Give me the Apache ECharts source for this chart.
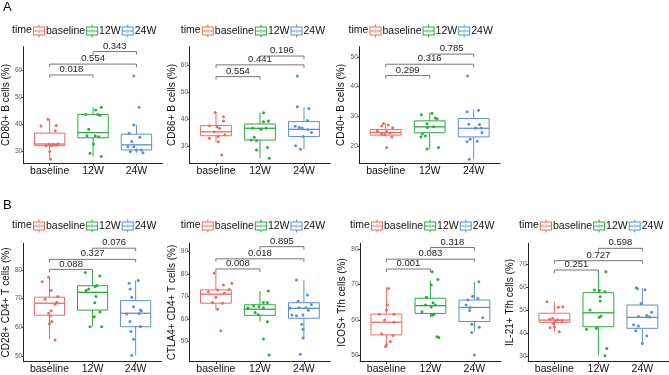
<!DOCTYPE html>
<html>
<head>
<meta charset="utf-8">
<script src="https://cdn.jsdelivr.net/npm/echarts@6/dist/echarts.min.js"></script>
<style>
  html, body { margin: 0; padding: 0; background: #fff; }
  #chart { width: 669px; height: 375px; }
</style>
</head>
<body>
<div id="chart"></div>
<script>
const groups = ['baseline', '12W', '24W'];
const groupColors = ['#EE6A63', '#2BAA3E', '#5B8ED8'];

// box stats per group: [whisker low, Q1, median, Q3, whisker high]
// points: [jitter offset, value]

// CD80+ B cells
const cd80Box = [[27.2, 32.2, 32.8, 36.8, 42.0], [28.2, 35.1, 37.0, 43.7, 46.3], [29.6, 30.6, 32.5, 36.4, 39.8]];
const cd80Base = [[-0.04, 41.9], [-0.2, 39.4], [0.15, 39.6], [0.13, 37.7], [-0.02, 32.7], [0.08, 32.7], [0.19, 32.9], [-0.08, 32.2], [0.04, 32.2], [0.15, 32.3], [0, 30.0], [0.02, 27.2]];
const cd80W12 = [[0.19, 46.3], [0.06, 45.3], [-0.17, 43.7], [0.11, 43.7], [0.16, 43.4], [-0.1, 38.2], [-0.14, 35.8], [0.05, 35.8], [0.13, 35.5], [0.01, 32.8], [-0.07, 29.4], [0.19, 28.2]];
const cd80W24 = [[-0.06, 57.8], [0.06, 46.3], [-0.06, 39.8], [-0.17, 36.8], [0.08, 35.3], [-0.11, 33.7], [-0.2, 31.8], [-0.06, 31.8], [0, 30.6], [0.11, 30.6], [-0.14, 30.0], [0.15, 29.6]];
const cd80Sig = [[1, 2, 58.2], [1, 3, 62.2], [2, 3, 66.8]];
const cd80P = ['0.018', '0.554', '0.343'];
const cd80Ticks = [30, 40, 50, 60];

// CD86+ B cells
const cd86Box = [[31.5, 33.8, 35.3, 37.6, 42.5], [25.4, 32.2, 36.6, 38.2, 42.4], [28.8, 33.5, 36.2, 39.1, 44.4]];
const cd86Base = [[-0.02, 42.5], [0.17, 40.9], [0.17, 39.3], [-0.15, 37.5], [0.02, 37.2], [0.08, 36.6], [-0.04, 35.3], [0.2, 34.2], [0.05, 33.5], [-0.15, 32.9], [0.05, 31.6], [0.13, 26.6]];
const cd86W12 = [[0.08, 42.4], [0.19, 39.3], [0.08, 39.0], [-0.17, 36.6], [0.02, 36.2], [0.14, 36.6], [-0.13, 33.2], [-0.2, 32.2], [-0.08, 32.0], [0.17, 29.4], [-0.08, 28.5], [0.21, 25.4]];
const cd86W24 = [[-0.15, 56.1], [-0.15, 44.6], [0.11, 44.0], [0.08, 39.5], [-0.11, 36.9], [-0.04, 36.7], [0.17, 35.0], [-0.02, 33.5], [-0.19, 30.1], [-0.08, 28.8], [0.09, 36.0], [-0.2, 37.4]];
const cd86Sig = [[1, 2, 55.9], [1, 3, 60.3], [2, 3, 63.6]];
const cd86P = ['0.554', '0.441', '0.196'];
const cd86Ticks = [30, 40, 50, 60];

// CD40+ B cells
const cd40Box = [[23.0, 23.6, 24.5, 25.5, 27.5], [18.9, 24.4, 26.4, 28.4, 31.0], [15.5, 23.0, 25.9, 29.2, 32.3]];
const cd40Base = [[-0.05, 27.5], [0.06, 27.0], [-0.09, 26.7], [0.16, 26.1], [-0.19, 25.0], [0.02, 24.8], [0.1, 24.3], [-0.09, 24.0], [-0.02, 23.8], [0.14, 23.0], [0.02, 19.4]];
const cd40W12 = [[-0.19, 30.5], [0.05, 31.0], [0.13, 29.4], [0.17, 29.0], [0.09, 26.4], [-0.06, 27.4], [-0.05, 26.2], [-0.17, 24.0], [-0.1, 23.3], [-0.2, 23.0], [-0.06, 18.9], [0.2, 19.4]];
const cd40W24 = [[-0.14, 43.5], [0.11, 32.0], [-0.15, 31.5], [-0.11, 27.3], [0.13, 27.2], [0.17, 26.0], [0.04, 26.0], [0.19, 24.5], [-0.08, 22.2], [0.08, 21.5], [-0.15, 21.4], [-0.1, 15.5]];
const cd40Sig = [[1, 2, 43.7], [1, 3, 47.5], [2, 3, 50.9]];
const cd40P = ['0.299', '0.316', '0.785'];
const cd40Ticks = [20, 30, 40, 50];

// CD28+ CD4+ T cells
const cd28Box = [[55.8, 64.2, 68.4, 70.5, 77.5], [60.2, 66.0, 72.2, 74.5, 79.4], [50.2, 60.2, 64.9, 69.3, 76.3]];
const cd28Base = [[-0.02, 77.5], [-0.17, 75.9], [0.04, 72.8], [0.19, 70.7], [-0.1, 69.8], [0.17, 68.7], [0.13, 68.0], [0.04, 65.8], [-0.02, 64.9], [0.02, 63.9], [0.05, 62.0], [0, 61.2], [0.13, 55.6]];
const cd28W12 = [[-0.17, 79.1], [0.17, 77.9], [-0.09, 73.4], [0.06, 74.2], [0.1, 74.6], [-0.15, 72.8], [0.08, 70.7], [0.05, 68.6], [0.17, 65.3], [0.04, 63.7], [-0.06, 60.2], [0.21, 60.2]];
const cd28W24 = [[0.06, 76.3], [-0.15, 75.4], [-0.13, 73.4], [-0.09, 70.5], [-0.05, 67.2], [0.11, 66.0], [0.13, 65.8], [-0.21, 64.6], [0.08, 64.8], [-0.13, 62.0], [0.11, 60.3], [-0.11, 58.5], [-0.05, 55.8], [-0.09, 50.2]];
const cd28Sig = [[1, 2, 80.2], [1, 3, 83.7], [2, 3, 87.6]];
const cd28P = ['0.088', '0.327', '0.076'];
const cd28Ticks = [50, 60, 70, 80];

// CTLA4+ CD4+ T cells
const ctla4Box = [[64.1, 67.1, 71.1, 73.0, 80.8], [58.9, 61.7, 64.4, 66.4, 72.5], [51.2, 60.4, 64.8, 67.3, 77.4]];
const ctla4Base = [[-0.04, 80.5], [0.36, 75.9], [0.17, 75.2], [0.04, 73.0], [0.3, 73.2], [-0.17, 72.2], [0.19, 71.5], [0, 69.7], [-0.08, 67.4], [0.15, 67.1], [0.04, 64.4], [0.11, 54.8]];
const ctla4W12 = [[0.19, 72.5], [0.08, 67.4], [0.17, 67.4], [-0.14, 65.8], [-0.02, 65.5], [0.08, 65.1], [-0.27, 65.1], [-0.04, 62.0], [-0.11, 63.0], [0.17, 58.9], [0.08, 51.2], [0.21, 44.1]];
const ctla4W24 = [[-0.17, 77.4], [0.08, 70.7], [-0.13, 68.0], [0.17, 66.5], [-0.32, 65.0], [0.04, 65.1], [-0.11, 65.1], [0.1, 64.0], [-0.27, 61.8], [-0.17, 61.5], [-0.02, 61.8], [-0.05, 57.7], [-0.02, 55.5], [-0.02, 51.6], [-0.08, 44.4]];
const ctla4Sig = [[1, 2, 82.3], [1, 3, 86.8], [2, 3, 92.2]];
const ctla4P = ['0.008', '0.018', '0.895'];
const ctla4Ticks = [50, 60, 70, 80, 90];

// ICOS+ Tfh cells
const icosBox = [[52.4, 55.7, 59.3, 61.6, 69.4], [60.7, 61.8, 64.0, 66.1, 71.1], [56.6, 59.5, 63.5, 65.6, 70.8]];
const icosBase = [[0.05, 68.9], [0.02, 64.2], [0, 62.8], [-0.16, 61.6], [0.17, 61.6], [-0.04, 59.9], [0.17, 59.3], [-0.11, 56.0], [0.15, 55.5], [0.09, 53.8], [0, 52.9], [-0.02, 52.4]];
const icosW12 = [[0.04, 73.6], [0.17, 71.4], [0.02, 69.9], [-0.09, 66.4], [-0.11, 64.2], [0.06, 64.8], [0.02, 63.6], [0.11, 64.2], [-0.19, 62.3], [0.04, 61.3], [0.08, 61.6], [0.15, 55.2], [0.19, 55.0]];
const icosW24 = [[0.1, 70.8], [-0.04, 66.7], [-0.15, 65.6], [0.08, 66.0], [-0.19, 64.2], [-0.1, 63.5], [-0.11, 62.6], [0.19, 60.6], [-0.06, 58.7], [0.11, 57.9], [-0.06, 56.4], [0, 50.0]];
const icosSig = [[1, 2, 74.4], [1, 3, 77.2], [2, 3, 80.5]];
const icosP = ['0.001', '0.083', '0.318'];
const icosTicks = [50, 60, 70, 80];

// IL-21+ Tfh cells
const il21Box = [[40.5, 44.6, 45.6, 48.6, 53.6], [30.0, 42.7, 48.8, 57.6, 67.1], [35.7, 42.0, 46.8, 52.2, 59.5]];
const il21Base = [[-0.17, 53.6], [0.19, 51.4], [0.09, 51.2], [-0.04, 46.4], [0.07, 45.8], [-0.11, 46.0], [0.17, 45.4], [0.02, 45.2], [-0.02, 44.0], [0, 42.7], [-0.1, 42.2], [0.11, 40.5]];
const il21W12 = [[0.17, 66.8], [-0.09, 58.8], [0.02, 58.5], [0.15, 58.0], [0.04, 55.8], [0.04, 54.0], [-0.19, 50.0], [0.06, 47.4], [0.02, 46.8], [-0.05, 42.0], [-0.27, 41.6], [0.19, 33.2], [0.15, 30.0]];
const il21W24 = [[-0.14, 59.8], [-0.11, 59.3], [0.06, 58.9], [-0.03, 52.9], [0.21, 49.0], [0.1, 47.6], [0.16, 47.0], [-0.09, 47.2], [-0.2, 43.6], [-0.09, 43.0], [-0.15, 40.9], [0.1, 38.8], [0, 35.4]];
const il21Sig = [[1, 2, 67.5], [1, 3, 71.6], [2, 3, 77.0]];
const il21P = ['0.251', '0.727', '0.598'];
const il21Ticks = [30, 40, 50, 60, 70];

const font = 'Liberation Sans, Arial, Helvetica, sans-serif';
const keyIcon = 'path://M0 4H24V22H0Z M2 6V20H22V6Z M2 12H22V14H2Z M11 0H13V4H11Z M11 22H13V26H11Z M9 13A3 3 0 1 0 15 13A3 3 0 1 0 9 13Z';

const panels = [
  { name: 'CD80+ B cells (%)', box: cd80Box, pts: [cd80Base, cd80W12, cd80W24], sig: cd80Sig, p: cd80P, ticks: cd80Ticks,
    yMin: 25.7, yMax: 68.6, left: 21.7, top: 46.7, height: 116.6, nameGap: 2, legendX: 84.5, legendY: 31 },
  { name: 'CD86+ B cells (%)', box: cd86Box, pts: [cd86Base, cd86W12, cd86W24], sig: cd86Sig, p: cd86P, ticks: cd86Ticks,
    yMin: 23.5, yMax: 67.1, left: 189.6, top: 46.7, height: 116.6, nameGap: 9, legendX: 253.3, legendY: 31 },
  { name: 'CD40+ B cells (%)', box: cd40Box, pts: [cd40Base, cd40W12, cd40W24], sig: cd40Sig, p: cd40P, ticks: cd40Ticks,
    yMin: 14.1, yMax: 53.4, left: 359.3, top: 46.7, height: 116.6, nameGap: 9, legendX: 421, legendY: 31 },
  { name: 'CD28+ CD4+ T cells (%)', box: cd28Box, pts: [cd28Base, cd28W12, cd28W24], sig: cd28Sig, p: cd28P, ticks: cd28Ticks,
    yMin: 48.0, yMax: 89.3, left: 20.7, top: 243.3, height: 118.4, nameGap: 3, legendX: 84.5, legendY: 226 },
  { name: 'CTLA4+ CD4+ T cells (%)', box: ctla4Box, pts: [ctla4Base, ctla4W12, ctla4W24], sig: ctla4Sig, p: ctla4P, ticks: ctla4Ticks,
    yMin: 41.1, yMax: 93.7, left: 189.5, top: 243.3, height: 118.4, nameGap: 12, legendX: 253.3, legendY: 226 },
  { name: 'ICOS+ Tfh cells (%)', box: icosBox, pts: [icosBase, icosW12, icosW24], sig: icosSig, p: icosP, ticks: icosTicks,
    yMin: 48.1, yMax: 81.7, left: 360, top: 243.3, height: 118.4, nameGap: 12, legendX: 422.5, legendY: 226 },
  { name: 'IL-21+ Tfh cells (%)', box: il21Box, pts: [il21Base, il21W12, il21W24], sig: il21Sig, p: il21P, ticks: il21Ticks,
    yMin: 27.4, yMax: 79.2, left: 528, top: 243.3, height: 118.4, nameGap: 8, legendX: 591.5, legendY: 226 }
];

function renderBox(params, api) {
  const x = api.value(0);
  const lo = api.coord([x, api.value(1)]);
  const q1 = api.coord([x, api.value(2)]);
  const md = api.coord([x, api.value(3)]);
  const q3 = api.coord([x, api.value(4)]);
  const hi = api.coord([x, api.value(5)]);
  const hw = api.size([0.7, 0], [x, 0])[0] / 2;
  const color = api.visual('color');
  const st = { stroke: color, lineWidth: 1, fill: null };
  return {
    type: 'group',
    children: [
      { type: 'line', shape: { x1: lo[0], y1: lo[1], x2: q1[0], y2: q1[1] }, style: st },
      { type: 'line', shape: { x1: q3[0], y1: q3[1], x2: hi[0], y2: hi[1] }, style: st },
      { type: 'rect', shape: { x: q3[0] - hw, y: q3[1], width: hw * 2, height: q1[1] - q3[1] }, style: st },
      { type: 'line', shape: { x1: md[0] - hw, y1: md[1], x2: md[0] + hw, y2: md[1] }, style: { stroke: color, lineWidth: 1.3 } }
    ]
  };
}

function makeSig(labels) {
  return function (params, api) {
    const y = api.value(2);
    const a = api.coord([api.value(0), y]);
    const b = api.coord([api.value(1), y]);
    return {
      type: 'group',
      children: [
        { type: 'polyline', shape: { points: [[a[0], a[1] + 3], a, b, [b[0], b[1] + 3]] },
          style: { stroke: '#666', lineWidth: 0.9, fill: null } },
        { type: 'text', x: (a[0] + b[0]) / 2, y: a[1] - 0.5,
          style: { text: labels[params.dataIndex], fill: '#222', fontSize: 9.5, fontFamily: font, align: 'center', verticalAlign: 'bottom' } }
      ]
    };
  };
}

const grid = [], xAxis = [], yAxis = [], series = [], legend = [];
const title = [
  { text: 'A', left: 3, top: 1, padding: 0, textStyle: { fontSize: 13, fontWeight: 'normal', color: '#000', fontFamily: font } },
  { text: 'B', left: 3, top: 199, padding: 0, textStyle: { fontSize: 13, fontWeight: 'normal', color: '#000', fontFamily: font } }
];

panels.forEach((p, i) => {
  grid.push({ left: p.left, top: p.top, width: 140.8, height: p.height });
  xAxis.push({
    type: 'value', gridIndex: i, min: 0.4, max: 3.6,
    splitLine: { show: false },
    axisLine: { show: true, onZero: false, lineStyle: { color: '#222', width: 1 } },
    axisTick: { show: true, length: 2.5, customValues: [1, 2, 3], lineStyle: { color: '#333' } },
    axisLabel: { customValues: [1, 2, 3], formatter: v => groups[Math.round(v) - 1], color: '#111', fontSize: 10.5, margin: 2, fontFamily: font }
  });
  yAxis.push({
    type: 'value', gridIndex: i, min: p.yMin, max: p.yMax,
    name: p.name, nameLocation: 'middle', nameGap: p.nameGap,
    nameTextStyle: { fontSize: 10, color: '#111', fontFamily: font },
    splitLine: { show: false },
    axisLine: { show: true, lineStyle: { color: '#222', width: 1 } },
    axisTick: { show: true, length: 2, customValues: p.ticks, lineStyle: { color: '#444' } },
    axisLabel: { customValues: p.ticks, color: '#555', fontSize: 6.5, margin: 1.5, fontFamily: font }
  });
  groups.forEach((g, gi) => {
    series.push({
      type: 'custom', name: g, xAxisIndex: i, yAxisIndex: i, silent: true, z: 2,
      itemStyle: { color: groupColors[gi] },
      encode: { x: 0, y: [1, 2, 3, 4, 5] },
      data: [[gi + 1].concat(p.box[gi])],
      renderItem: renderBox
    });
  });
  groups.forEach((g, gi) => {
    series.push({
      type: 'scatter', name: g, xAxisIndex: i, yAxisIndex: i, silent: true, z: 3,
      symbolSize: 3, itemStyle: { color: groupColors[gi], opacity: 1 },
      data: p.pts[gi].map(d => [gi + 1 + d[0], d[1]])
    });
  });
  series.push({
    type: 'custom', name: 'sig', xAxisIndex: i, yAxisIndex: i, silent: true, z: 4,
    encode: { x: [0, 1], y: 2 },
    data: p.sig,
    renderItem: makeSig(p.p)
  });
  const start = p.legendX - 72.5;
  title.push({ text: 'time', left: start, top: p.legendY - 6.5, padding: 0,
    textStyle: { fontSize: 10.5, fontWeight: 'normal', color: '#111', fontFamily: font } });
  legend.push({
    data: groups, left: start + 21, top: p.legendY - 6.5, padding: 0, width: 200,
    itemWidth: 12, itemHeight: 13, itemGap: 1, icon: keyIcon, selectedMode: false,
    textStyle: { fontSize: 10.5, color: '#111', fontFamily: font, padding: [0, 0, 0, -4] }
  });
});

const chart = echarts.init(document.getElementById('chart'));
chart.setOption({
  animation: false,
  backgroundColor: '#fff',
  title: title,
  legend: legend,
  grid: grid,
  xAxis: xAxis,
  yAxis: yAxis,
  series: series
});
</script>
</body>
</html>
